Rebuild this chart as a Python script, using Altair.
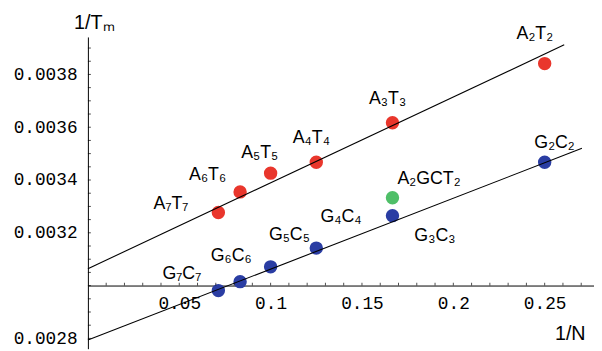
import altair as alt
import pandas as pd

# ---- data ----
names = ["A₂T₂", "A₃T₃", "A₄T₄", "A₅T₅", "A₆T₆", "A₇T₇", "A₂GCT₂",
         "G₂C₂", "G₃C₃", "G₄C₄", "G₅C₅", "G₆C₆", "G₇C₇"]
groups = ["AT", "AT", "AT", "AT", "AT", "AT", "mix",
          "GC", "GC", "GC", "GC", "GC", "GC"]
inv_n = [0.25, 0.1667, 0.125, 0.1, 0.0833, 0.0714, 0.1667,
         0.25, 0.1667, 0.125, 0.1, 0.0833, 0.0714]
inv_tm = [0.003841, 0.003617, 0.003467, 0.003426, 0.003355, 0.003277, 0.003333,
          0.003467, 0.003265, 0.003142, 0.003071, 0.003015, 0.002981]

# fitted lines (end points)
line_series = ["AT", "AT", "GC", "GC"]
line_x = [0.0, 0.2607, 0.0, 0.2704]
line_y = [0.003064, 0.003912, 0.002794, 0.003520]

y_tick_labels = [0.0028, 0.0032, 0.0034, 0.0036, 0.0038]
x_tick_labels = [0.05, 0.1, 0.15, 0.2, 0.25]
y_minor = [0.00280, 0.00285, 0.00290, 0.00295, 0.00300, 0.00305, 0.00310,
           0.00315, 0.00320, 0.00325, 0.00330, 0.00335, 0.00340, 0.00345,
           0.00350, 0.00355, 0.00360, 0.00365, 0.00370, 0.00375, 0.00380,
           0.00385, 0.00390]
x_minor = [0.01, 0.02, 0.03, 0.04, 0.05, 0.06, 0.07, 0.08, 0.09, 0.10,
           0.11, 0.12, 0.13, 0.14, 0.15, 0.16, 0.17, 0.18, 0.19, 0.20,
           0.21, 0.22, 0.23, 0.24, 0.25, 0.26, 0.27]

pts = pd.DataFrame({"name": names, "group": groups, "x": inv_n, "y": inv_tm})
lines = pd.DataFrame({"series": line_series, "x": line_x, "y": line_y})
yt = pd.DataFrame({"y": y_minor})
xt = pd.DataFrame({"x": x_minor})

# label offsets in pixels (style), relative to each point
label_offsets = {
    "A₂T₂": (-10, -25), "A₃T₃": (-5, -19), "A₄T₄": (-5, -20), "A₅T₅": (-11, -15),
    "A₆T₆": (-33, -12), "A₇T₇": (-48, -4), "A₂GCT₂": (37, -14),
    "G₂C₂": (10, -15), "G₃C₃": (43, 26), "G₄C₄": (25, -26), "G₅C₅": (19, -27),
    "G₆C₆": (-9, -21), "G₇C₇": (-37, -12),
}

xs = alt.Scale(domain=[0, 0.277], nice=False, zero=False)
ys = alt.Scale(domain=[0.002761, 0.003942], nice=False, zero=False)

MONO = "Liberation Mono"
SANS = "Liberation Sans"

x_axis = alt.Axis(
    orient="bottom", offset=-64, values=x_tick_labels, format="~g",
    grid=False, ticks=False, domainColor="black",
    labelFont=MONO, labelFontSize=18, labelColor="black", labelPadding=9,
    title="1/N", titleFont=SANS, titleFontSize=20, titleFontWeight="normal",
    titleColor="black", titleX=504, titleY=39, titleAlign="right",
)
y_axis = alt.Axis(
    orient="left", values=y_tick_labels, format=".4f",
    grid=False, ticks=False, domainColor="black",
    labelFont=MONO, labelFontSize=18, labelColor="black", labelPadding=11,
    title="1/Tₘ", titleFont=SANS, titleFontSize=20, titleFontWeight="normal",
    titleColor="black", titleAngle=0, titleX=6, titleY=-5, titleAlign="center",
)

X = alt.X("x:Q", scale=xs, axis=x_axis)
Y = alt.Y("y:Q", scale=ys, axis=y_axis)

points = alt.Chart(pts).mark_circle(size=185, opacity=1).encode(
    x=X, y=Y,
    color=alt.Color("group:N",
                    scale=alt.Scale(domain=["AT", "mix", "GC"],
                                    range=["#E9362C", "#4FBF68", "#2A3DA3"]),
                    legend=None),
)

line_layer = alt.Chart(lines).mark_line(color="black", strokeWidth=1.1).encode(
    x=X, y=Y, detail="series:N",
)

y_ticks = alt.Chart(yt).transform_calculate(x="0").mark_tick(
    orient="horizontal", size=3, thickness=1, xOffset=1.5, color="black"
).encode(x=X, y=Y)
x_ticks = alt.Chart(xt).transform_calculate(y="0.003").mark_tick(
    orient="vertical", size=3, thickness=1, yOffset=-1.5, color="black"
).encode(x=X, y=Y)

label_layers = []
for nm, (dx, dy) in label_offsets.items():
    label_layers.append(
        alt.Chart(pts).transform_filter(alt.datum.name == nm).mark_text(
            dx=dx, dy=dy, align="center", baseline="alphabetic",
            font=SANS, fontSize=18, color="black",
        ).encode(x=X, y=Y, text="name:N")
    )

chart = alt.layer(points, line_layer, y_ticks, x_ticks, *label_layers).properties(
    width=513, height=316,
    autosize=alt.AutoSizeParams(type="none"),
    padding={"left": 81, "top": 27, "right": 0, "bottom": 0},
    background="white",
).configure_view(stroke=None)

chart.save("out.html", embed_options={"renderer": "svg", "actions": False})
